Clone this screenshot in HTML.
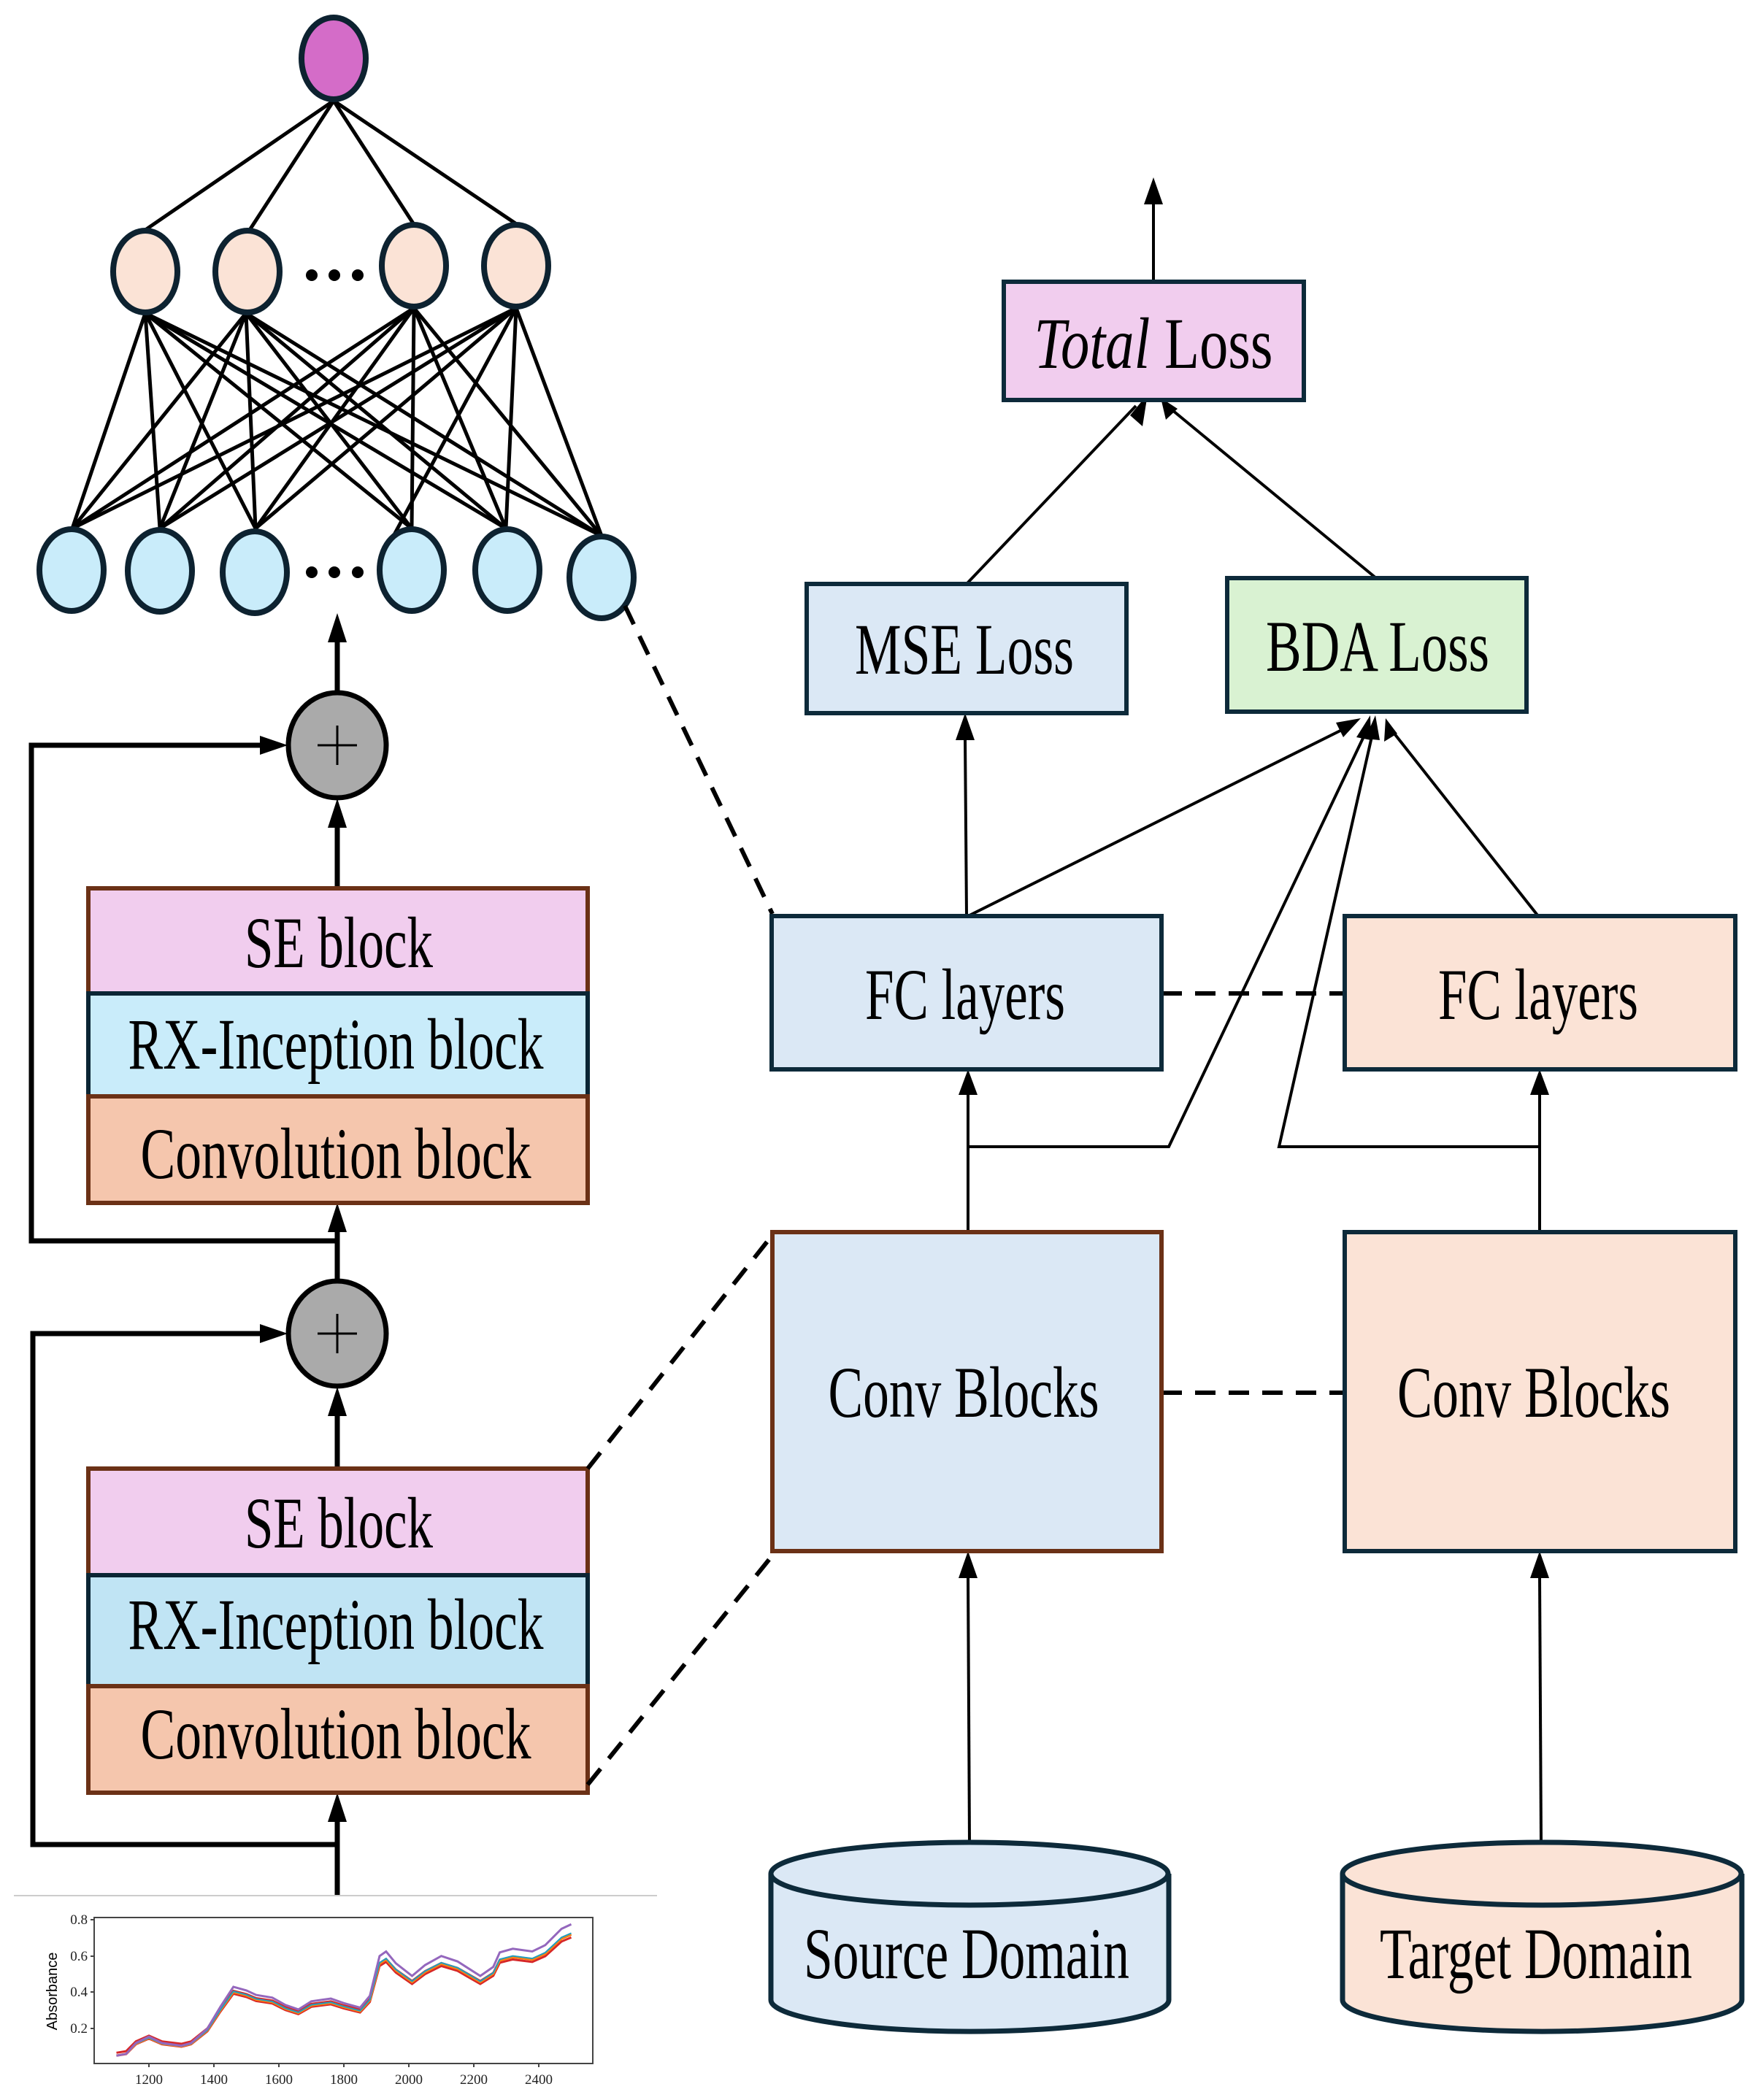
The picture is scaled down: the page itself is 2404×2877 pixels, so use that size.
<!DOCTYPE html>
<html><head><meta charset="utf-8"><style>html,body{margin:0;padding:0;background:#fff}svg{display:block}</style></head>
<body>
<svg width="2404" height="2877" viewBox="0 0 2404 2877" xmlns="http://www.w3.org/2000/svg" font-family="Liberation Serif, serif">
<defs>
<marker id="ah" viewBox="0 0 10 10" refX="10" refY="5" markerWidth="7" markerHeight="9" markerUnits="userSpaceOnUse" orient="auto"></marker>
</defs>
<style>
.t{font-size:100px;fill:#000}
.nn{stroke:#0d2230;stroke-width:8}
.w{stroke:#000;stroke-width:5;fill:none}
</style>

<!-- neural net connections -->
<g stroke="#000" stroke-width="5">
<line x1="457" y1="138" x2="199" y2="315"/><line x1="457" y1="138" x2="342" y2="315"/>
<line x1="457" y1="138" x2="566" y2="306"/><line x1="457" y1="138" x2="706" y2="306"/>
</g>
<g stroke="#000" stroke-width="5" id="bip">
<!-- from mid nodes -->
<line x1="199" y1="429" x2="99" y2="724"/><line x1="199" y1="429" x2="219" y2="724"/><line x1="199" y1="429" x2="350" y2="724"/><line x1="199" y1="429" x2="564" y2="724"/><line x1="199" y1="429" x2="693" y2="724"/><line x1="199" y1="429" x2="824" y2="734"/>
<line x1="337" y1="429" x2="99" y2="724"/><line x1="337" y1="429" x2="219" y2="724"/><line x1="337" y1="429" x2="350" y2="724"/><line x1="337" y1="429" x2="564" y2="724"/><line x1="337" y1="429" x2="693" y2="724"/><line x1="337" y1="429" x2="824" y2="734"/>
<line x1="567" y1="422" x2="99" y2="724"/><line x1="567" y1="422" x2="219" y2="724"/><line x1="567" y1="422" x2="350" y2="724"/><line x1="567" y1="422" x2="564" y2="724"/><line x1="567" y1="422" x2="693" y2="724"/><line x1="567" y1="422" x2="824" y2="734"/>
<line x1="707" y1="422" x2="99" y2="724"/><line x1="707" y1="422" x2="219" y2="724"/><line x1="707" y1="422" x2="350" y2="724"/><line x1="707" y1="422" x2="537" y2="738"/><line x1="707" y1="422" x2="693" y2="724"/><line x1="707" y1="422" x2="824" y2="734"/>
</g>
<!-- nodes -->
<ellipse cx="457" cy="80" rx="44" ry="56" fill="#d46cc8" class="nn"/>
<g fill="#fbe3d6" class="nn">
<ellipse cx="199" cy="372" rx="44" ry="56"/><ellipse cx="339" cy="372" rx="44" ry="56"/>
<ellipse cx="567" cy="364" rx="44" ry="56"/><ellipse cx="707" cy="364" rx="44" ry="56"/>
</g>
<g fill="#c9ecfa" class="nn">
<ellipse cx="98" cy="781" rx="44" ry="56"/><ellipse cx="219" cy="782" rx="44" ry="56"/><ellipse cx="349" cy="784" rx="44" ry="56"/>
<ellipse cx="564" cy="781" rx="44" ry="56"/><ellipse cx="695" cy="781" rx="44" ry="56"/><ellipse cx="824" cy="791" rx="44" ry="56"/>
</g>
<g fill="#000">
<circle cx="427" cy="377" r="8"/><circle cx="458" cy="377" r="8"/><circle cx="490" cy="377" r="8"/>
<circle cx="427" cy="784" r="8"/><circle cx="458" cy="784" r="8"/><circle cx="490" cy="784" r="8"/>
</g>

<!-- left column arrows -->
<g stroke="#000" stroke-width="7" fill="none">
<line x1="462" y1="949" x2="462" y2="878"/>
<line x1="462" y1="1217" x2="462" y2="1130"/>
<polyline points="462,1700 43,1700 43,1021 362,1021"/>
<line x1="462" y1="1755" x2="462" y2="1684"/>
<line x1="462" y1="2012" x2="462" y2="1936"/>
<polyline points="462,2527 45,2527 45,1827 362,1827"/>
<line x1="462" y1="2597" x2="462" y2="2492"/>
</g>
<g fill="#000">
<polygon points="462,840 449,880 475,880"/>
<polygon points="462,1094 449,1134 475,1134"/>
<polygon points="394,1021 356,1008 356,1034"/>
<polygon points="462,1648 449,1688 475,1688"/>
<polygon points="462,1900 449,1940 475,1940"/>
<polygon points="394,1827 356,1814 356,1840"/>
<polygon points="462,2456 449,2496 475,2496"/>
</g>
<!-- plus circles -->
<g fill="#aaaaaa" stroke="#000" stroke-width="7">
<ellipse cx="462" cy="1021" rx="67" ry="72"/>
<ellipse cx="462" cy="1827" rx="67" ry="72"/>
</g>
<g stroke="#000" stroke-width="3">
<line x1="435" y1="1021" x2="489" y2="1021"/><line x1="462" y1="994" x2="462" y2="1048"/>
<line x1="435" y1="1827" x2="489" y2="1827"/><line x1="462" y1="1800" x2="462" y2="1854"/>
</g>

<!-- stacks -->
<g stroke-width="6">
<rect x="121" y="1217" width="684" height="144" fill="#f1cdee" stroke="#6b3116"/>
<rect x="121" y="1361" width="684" height="141" fill="#c9ecfa" stroke="#0b2534"/>
<rect x="121" y="1502" width="684" height="146" fill="#f5c6ad" stroke="#6b3116"/>
<rect x="121" y="2012" width="684" height="146" fill="#f1cdee" stroke="#6b3116"/>
<rect x="121" y="2158" width="684" height="152" fill="#c0e4f4" stroke="#0b2534"/>
<rect x="121" y="2310" width="684" height="146" fill="#f5c6ad" stroke="#6b3116"/>
</g>
<g class="t" text-anchor="middle">
<text x="464" y="1325" textLength="258" lengthAdjust="spacingAndGlyphs">SE block</text>
<text x="460" y="1464" textLength="569" lengthAdjust="spacingAndGlyphs">RX-Inception block</text>
<text x="460" y="1614" textLength="535" lengthAdjust="spacingAndGlyphs">Convolution block</text>
<text x="464" y="2120" textLength="258" lengthAdjust="spacingAndGlyphs">SE block</text>
<text x="460" y="2259" textLength="569" lengthAdjust="spacingAndGlyphs">RX-Inception block</text>
<text x="460" y="2409" textLength="535" lengthAdjust="spacingAndGlyphs">Convolution block</text>
</g>

<!-- dashed connectors -->
<g stroke="#000" stroke-width="6" stroke-dasharray="28,18" fill="none">
<line x1="856" y1="830" x2="1058" y2="1252"/>
<line x1="805" y1="2012" x2="1058" y2="1692"/>
<line x1="805" y1="2445" x2="1058" y2="2131"/>
<line x1="1591" y1="1361" x2="1842" y2="1361"/>
<line x1="1591" y1="1908" x2="1842" y2="1908"/>
</g>

<!-- right side arrows -->
<g stroke="#000" stroke-width="4" fill="none">
<line x1="1580" y1="386" x2="1580" y2="275"/>
<line x1="1324" y1="800" x2="1556" y2="556"/>
<line x1="1885" y1="792" x2="1606" y2="562"/>
<line x1="1324" y1="1255" x2="1322" y2="1010"/>
<line x1="1326" y1="1255" x2="1850" y2="994"/>
<line x1="2107" y1="1255" x2="1906" y2="1000"/>
<polyline points="1326,1571 1601,1571 1870,1005"/>
<polyline points="2109,1571 1752,1571 1880,1005"/>
<line x1="1326" y1="1692" x2="1326" y2="1495"/>
<line x1="2109" y1="1692" x2="2109" y2="1495"/>
<line x1="1328" y1="2524" x2="1326" y2="2160"/>
<line x1="2111" y1="2524" x2="2109" y2="2160"/>
</g>
<g fill="#000">
<polygon points="1580,243 1567,280 1593,280"/>
<polygon points="1572,540 1548,569 1565,584"/>
<polygon points="1590,545 1597,575 1613,560"/>
<polygon points="1322,977 1309,1014 1335,1014"/>
<polygon points="1864,984 1830,990 1840,1010"/>
<polygon points="1898,984 1896,1016 1914,1005"/>
<polygon points="1877,980 1858,1010 1878,1014"/>
<polygon points="1884,980 1870,1012 1890,1014"/>
<polygon points="1326,1465 1313,1500 1339,1500"/>
<polygon points="2109,1465 2096,1500 2122,1500"/>
<polygon points="1326,2125 1313,2162 1339,2162"/>
<polygon points="2109,2125 2096,2162 2122,2162"/>
</g>

<!-- right boxes -->
<g stroke-width="6">
<rect x="1375" y="386" width="411" height="162" fill="#f1cdee" stroke="#0d2a3a"/>
<rect x="1105" y="800" width="438" height="177" fill="#dbe8f5" stroke="#0d2a3a"/>
<rect x="1681" y="792" width="410" height="183" fill="#d9f2d2" stroke="#0d2a3a"/>
<rect x="1057" y="1255" width="534" height="210" fill="#dbe8f5" stroke="#0d2a3a"/>
<rect x="1842" y="1255" width="535" height="210" fill="#fbe3d6" stroke="#0d2a3a"/>
<rect x="1058" y="1688" width="533" height="437" fill="#dbe8f5" stroke="#6b3116"/>
<rect x="1842" y="1688" width="535" height="437" fill="#fbe3d6" stroke="#0d2a3a"/>
</g>
<g class="t" text-anchor="middle">
<text x="1580" y="504" textLength="327" lengthAdjust="spacingAndGlyphs"><tspan font-style="italic">Total</tspan> Loss</text>
<text x="1321" y="923" textLength="300" lengthAdjust="spacingAndGlyphs">MSE Loss</text>
<text x="1887" y="919" textLength="306" lengthAdjust="spacingAndGlyphs">BDA Loss</text>
<text x="1322" y="1396" textLength="274" lengthAdjust="spacingAndGlyphs">FC layers</text>
<text x="2107" y="1396" textLength="274" lengthAdjust="spacingAndGlyphs">FC layers</text>
<text x="1320" y="1941" textLength="371" lengthAdjust="spacingAndGlyphs">Conv Blocks</text>
<text x="2101" y="1941" textLength="374" lengthAdjust="spacingAndGlyphs">Conv Blocks</text>
</g>

<!-- cylinders -->
<g stroke="#0d2a3a" stroke-width="7">
<path d="M1056,2567 L1056,2740 A272,43 0 0 0 1601,2740 L1601,2567" fill="#dbe8f5"/>
<ellipse cx="1328" cy="2567" rx="272" ry="43" fill="#dbe8f5"/>
<path d="M1839,2567 L1839,2740 A273,43 0 0 0 2386,2740 L2386,2567" fill="#fbe3d6"/>
<ellipse cx="2112" cy="2567" rx="273" ry="43" fill="#fbe3d6"/>
</g>
<g class="t" text-anchor="middle">
<text x="1324" y="2710" textLength="446" lengthAdjust="spacingAndGlyphs">Source Domain</text>
<text x="2104" y="2710" textLength="428" lengthAdjust="spacingAndGlyphs">Target Domain</text>
</g>

<!-- chart -->
<line x1="19" y1="2597" x2="900" y2="2597" stroke="#cccccc" stroke-width="2"/>
<rect x="129" y="2627" width="683" height="200" fill="#fff" stroke="#444" stroke-width="2"/>
<g stroke="#444" stroke-width="2">
<line x1="124" y1="2630" x2="129" y2="2630"/><line x1="124" y1="2680" x2="129" y2="2680"/><line x1="124" y1="2729" x2="129" y2="2729"/><line x1="124" y1="2779" x2="129" y2="2779"/>
<line x1="204" y1="2827" x2="204" y2="2832"/><line x1="293" y1="2827" x2="293" y2="2832"/><line x1="382" y1="2827" x2="382" y2="2832"/><line x1="471" y1="2827" x2="471" y2="2832"/><line x1="560" y1="2827" x2="560" y2="2832"/><line x1="649" y1="2827" x2="649" y2="2832"/><line x1="738" y1="2827" x2="738" y2="2832"/>
</g>
<g font-size="19" fill="#222" text-anchor="end">
<text x="120" y="2636">0.8</text><text x="120" y="2686">0.6</text><text x="120" y="2735">0.4</text><text x="120" y="2785">0.2</text>
</g>
<g font-size="19" fill="#222" text-anchor="middle">
<text x="204" y="2855">1200</text><text x="293" y="2855">1400</text><text x="382" y="2855">1600</text><text x="471" y="2855">1800</text><text x="560" y="2855">2000</text><text x="649" y="2855">2200</text><text x="738" y="2855">2400</text>
</g>
<text x="78" y="2728" font-family="Liberation Sans, sans-serif" font-size="20" text-anchor="middle" transform="rotate(-90 78 2728)">Absorbance</text>
<g fill="none" stroke-width="3" vector-effect="non-scaling-stroke">
<polyline id="cv" transform="matrix(0.445 0 0 -223.5 -330 2827.5)" stroke="#d62728" vector-effect="non-scaling-stroke" points="1100,0.05 1130,0.06 1160,0.12 1200,0.155 1240,0.12 1300,0.105 1330,0.12 1380,0.2 1420,0.32 1460,0.43 1500,0.41 1530,0.385 1580,0.37 1620,0.33 1660,0.305 1700,0.35 1760,0.365 1800,0.34 1850,0.315 1880,0.38 1910,0.6 1930,0.625 1960,0.56 2010,0.49 2050,0.55 2100,0.6 2150,0.57 2220,0.49 2260,0.54 2280,0.62 2320,0.64 2380,0.625 2420,0.66 2470,0.75 2500,0.775"/>
<use href="#cv" transform="translate(0,-4)" stroke="#2ca02c"/>
<polyline transform="matrix(0.445 0 0 -228.5 -330 2827.5)" stroke="#ff7f0e" vector-effect="non-scaling-stroke" points="1100,0.05 1130,0.06 1160,0.12 1200,0.155 1240,0.12 1300,0.105 1330,0.12 1380,0.2 1420,0.32 1460,0.43 1500,0.41 1530,0.385 1580,0.37 1620,0.33 1660,0.305 1700,0.35 1760,0.365 1800,0.34 1850,0.315 1880,0.38 1910,0.6 1930,0.625 1960,0.56 2010,0.49 2050,0.55 2100,0.6 2150,0.57 2220,0.49 2260,0.54 2280,0.62 2320,0.64 2380,0.625 2420,0.66 2470,0.75 2500,0.775"/>
<polyline transform="matrix(0.445 0 0 -231 -330 2827.5)" stroke="#1f9fbf" vector-effect="non-scaling-stroke" stroke-width="2" points="1100,0.05 1130,0.06 1160,0.12 1200,0.155 1240,0.12 1300,0.105 1330,0.12 1380,0.2 1420,0.32 1460,0.43 1500,0.41 1530,0.385 1580,0.37 1620,0.33 1660,0.305 1700,0.35 1760,0.365 1800,0.34 1850,0.315 1880,0.38 1910,0.6 1930,0.625 1960,0.56 2010,0.49 2050,0.55 2100,0.6 2150,0.57 2220,0.49 2260,0.54 2280,0.62 2320,0.64 2380,0.625 2420,0.66 2470,0.75 2500,0.775"/>
<polyline transform="matrix(0.445 0 0 -248.3 -330 2828.7)" stroke="#9467bd" vector-effect="non-scaling-stroke" points="1100,0.05 1130,0.06 1160,0.12 1200,0.155 1240,0.12 1300,0.105 1330,0.12 1380,0.2 1420,0.32 1460,0.43 1500,0.41 1530,0.385 1580,0.37 1620,0.33 1660,0.305 1700,0.35 1760,0.365 1800,0.34 1850,0.315 1880,0.38 1910,0.6 1930,0.625 1960,0.56 2010,0.49 2050,0.55 2100,0.6 2150,0.57 2220,0.49 2260,0.54 2280,0.62 2320,0.64 2380,0.625 2420,0.66 2470,0.75 2500,0.775"/>
</g>
</svg>
</body></html>
